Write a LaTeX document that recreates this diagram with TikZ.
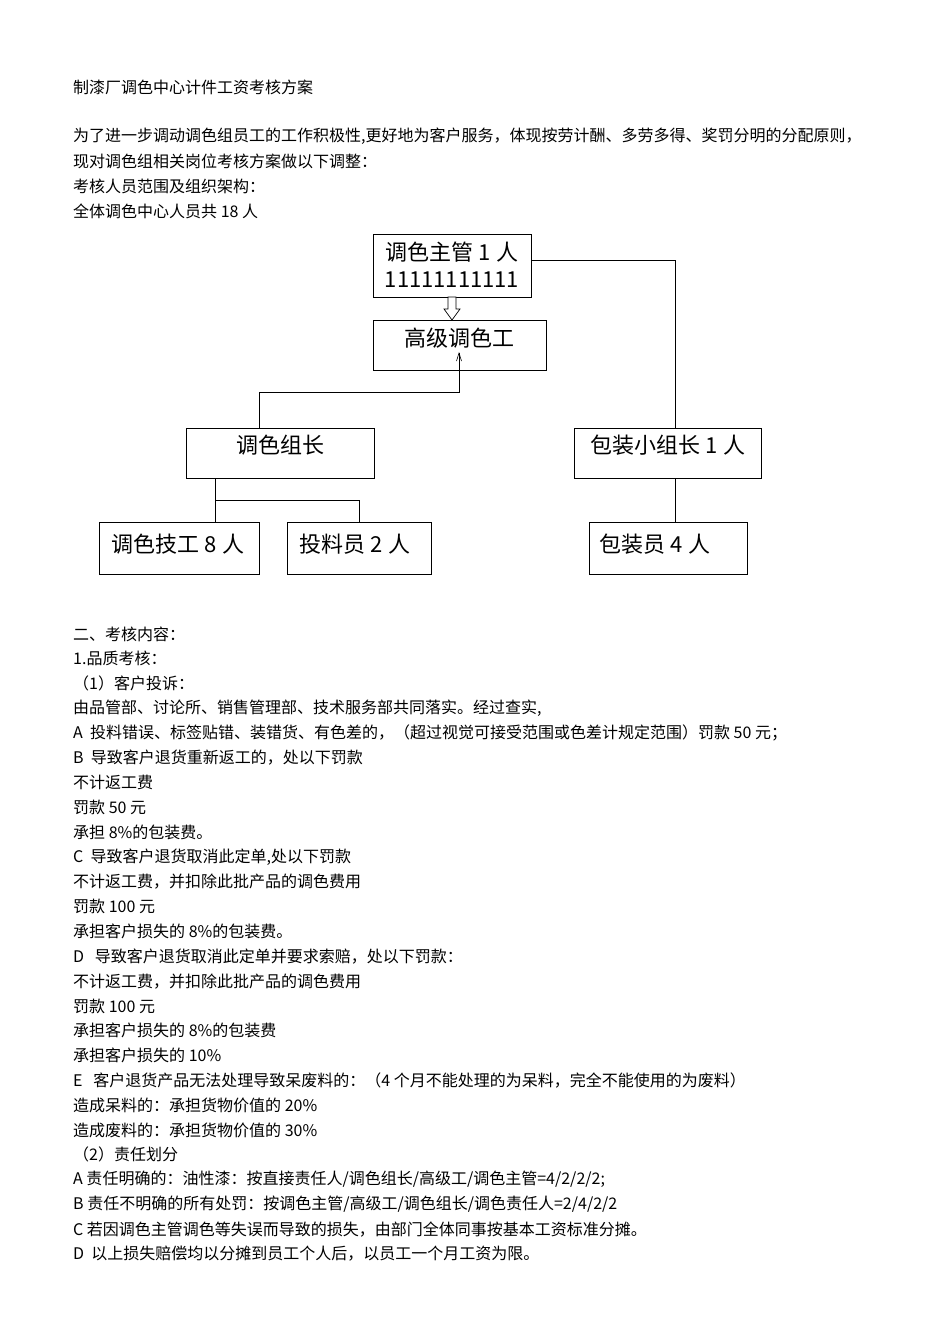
\documentclass[tikz,border=0pt]{standalone}
\usepackage{fontspec}
\setmainfont{Noto Sans CJK SC}
\usetikzlibrary{shapes.arrows}
\begin{document}
\begin{tikzpicture}[x=1pt,y=-1pt,
  txt/.style={anchor=west,inner sep=0pt,font=\fontsize{16}{18}\selectfont},
  bx/.style={draw,line width=0.8pt,inner sep=0pt},
  bt/.style={inner sep=0pt,font=\fontsize{22}{27}\selectfont,align=center},
  ln/.style={line width=0.8pt}]
\useasboundingbox[fill=white] (0,0) rectangle (950,1344);
\node[txt] (t0) at (73,87) {制漆厂调色中心计件工资考核方案};
\node[txt] (t1) at (73,136) {为了进一步调动调色组员工的工作积极性,更好地为客户服务，体现按劳计酬、多劳多得、奖罚分明的分配原则，};
\node[txt] (t2) at (73,161) {现对调色组相关岗位考核方案做以下调整：};
\node[txt] (t3) at (73,186) {考核人员范围及组织架构：};
\node[txt] (t4) at (73,211) {全体调色中心人员共 18 人};
% boxes
\draw[bx] (373,234) rectangle (531,297);
\node[bt] (a) at (452,265) {调色主管 1 人\\11111111111};
\draw[bx] (373,320) rectangle (546,370);
\node[bt] (b) at (459,338) {高级调色工};
\draw[bx] (186,428) rectangle (374,478);
\node[bt] (c) at (280,445) {调色组长};
\draw[bx] (574,428) rectangle (761,478);
\node[bt] (d) at (668,445) {包装小组长 1 人};
\draw[bx] (99,522) rectangle (259,574);
\node[bt] (e) at (178,544) {调色技工 8 人};
\draw[bx] (287,522) rectangle (431,574);
\node[bt] (f) at (355,544) {投料员 2 人};
\draw[bx] (589,522) rectangle (747,574);
\node[bt] (g) at (655,544) {包装员 4 人};
\draw[line width=0.7pt,fill=white] (448,297) -- (456,297) -- (456,309) -- (460,309) -- (452,320) -- (444,309) -- (448,309) -- cycle;
\draw[ln] (259,428) -- (259,392) -- (459,392) -- (459,353);
\draw[line width=0.6pt] (456.5,361) -- (459,353) -- (461.5,361);
\draw[ln] (531,260) -- (675,260) -- (675,428);
\draw[ln] (215,478) -- (215,522);
\draw[ln] (215,500) -- (359,500) -- (359,522);
\draw[ln] (675,478) -- (675,522);
% body
\foreach \i/\s in {0/{二、考核内容：},1/{1.品质考核：},2/{（1）客户投诉：},3/{由品管部、讨论所、销售管理部、技术服务部共同落实。经过查实,},
4/{A\ \ 投料错误、标签贴错、装错货、有色差的，（超过视觉可接受范围或色差计规定范围）罚款 50 元；},
5/{B\ \ 导致客户退货重新返工的，处以下罚款},6/{不计返工费},7/{罚款 50 元},8/{承担 8\%的包装费。},
9/{C\ \ 导致客户退货取消此定单,处以下罚款},10/{不计返工费，并扣除此批产品的调色费用},11/{罚款 100 元},12/{承担客户损失的 8\%的包装费。},
13/{D\ \ \ 导致客户退货取消此定单并要求索赔，处以下罚款：},14/{不计返工费，并扣除此批产品的调色费用},15/{罚款 100 元},16/{承担客户损失的 8\%的包装费},17/{承担客户损失的 10\%},
18/{E\ \ \ 客户退货产品无法处理导致呆废料的：（4 个月不能处理的为呆料，完全不能使用的为废料）},19/{造成呆料的：承担货物价值的 20\%},20/{造成废料的：承担货物价值的 30\%},
21/{（2）责任划分},22/{A 责任明确的：油性漆：按直接责任人/调色组长/高级工/调色主管=4/2/2/2;},23/{B 责任不明确的所有处罚：按调色主管/高级工/调色组长/调色责任人=2/4/2/2},
24/{C 若因调色主管调色等失误而导致的损失，由部门全体同事按基本工资标准分摊。},25/{D\ \ 以上损失赔偿均以分摊到员工个人后，以员工一个月工资为限。}}
  \node[txt] (b\i) at (73,634+24.8*\i) {\s};
\end{tikzpicture}
\end{document}
